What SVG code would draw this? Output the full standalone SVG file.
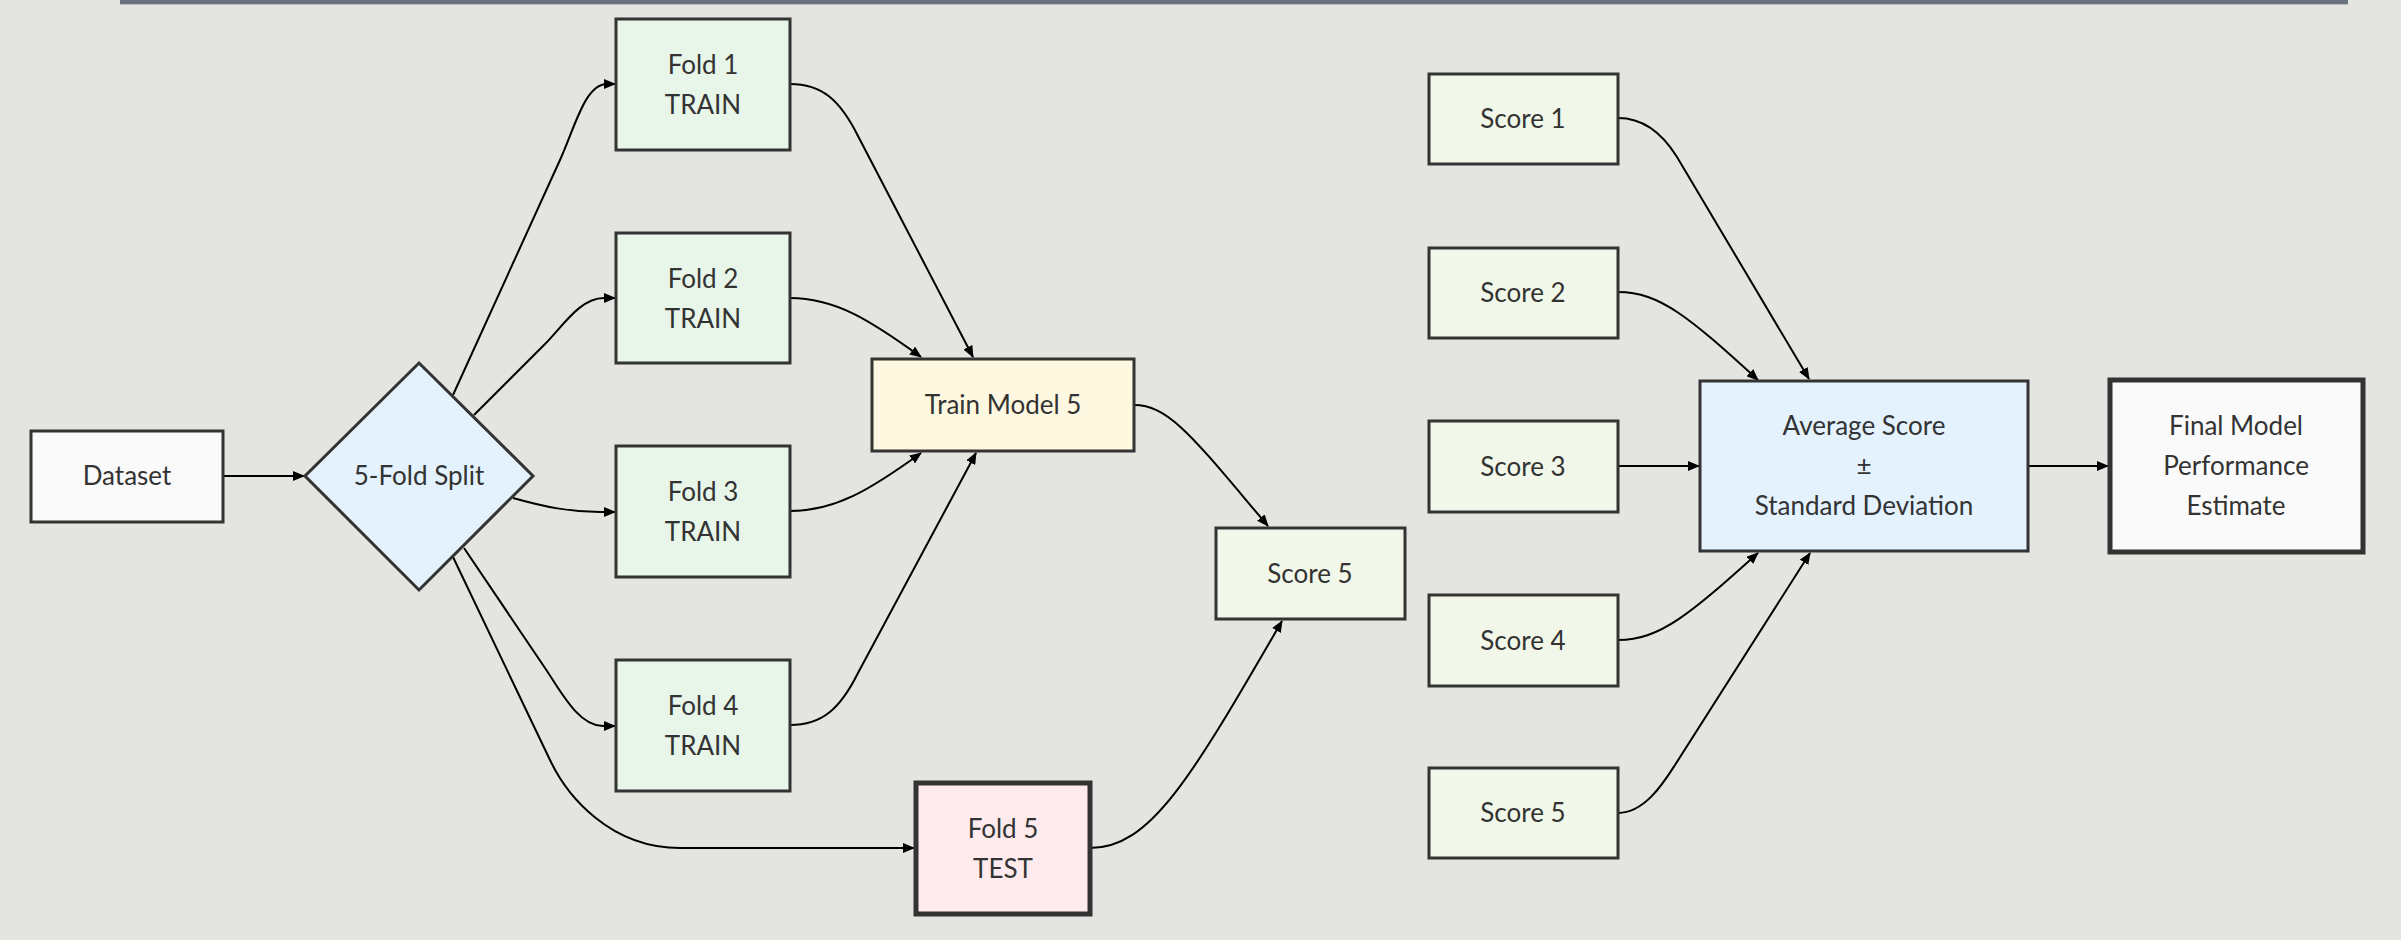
<svg xmlns="http://www.w3.org/2000/svg" width="2401" height="940" viewBox="0 0 2401 940">
  <defs>
    <style>
      .node rect, .node polygon { stroke: #333333; stroke-width: 3; }
      .node.strong rect { stroke-width: 5; }
      .node text { font-family: "Trebuchet MS", Lato, "Liberation Sans", sans-serif; font-size: 26px; fill: #333333; text-anchor: middle; }
      .edge { fill: none; stroke: #000000; stroke-width: 2; marker-end: url(#arrow); }
      .plain { fill: #fafafa; }
      .fold { fill: #e8f5e9; }
      .score { fill: #f1f8e9; }
      .model { fill: #fff8e1; }
      .test { fill: #ffebee; }
      .calc { fill: #e3f2fd; }
    </style>
    <marker id="arrow" viewBox="0 0 12 10" refX="11" refY="5" markerWidth="12" markerHeight="10" markerUnits="userSpaceOnUse" orient="auto">
      <path d="M0,0 L12,5 L0,10 z" fill="#000000"/>
    </marker>
  </defs>

  <!-- background and header rule -->
  <rect x="0" y="0" width="2401" height="940" fill="#e4e5e0"/>
  <rect x="120" y="0" width="2228" height="4" fill="#6b7280"/>
  <rect x="120" y="4" width="2228" height="1" fill="#b8bcc2"/>

  <!-- connectors -->
  <g id="edges">
    <path class="edge" d="M223,476 L304,476"/>
    <path class="edge" d="M453,395 L560,160 C575,127 585,84 607,84 L615,84"/>
    <path class="edge" d="M474,415 L545,344 C563,326 580,298 604,298 L615,298"/>
    <path class="edge" d="M513,498 C545,507 570,512 600,512 L615,512"/>
    <path class="edge" d="M464,548 L545,668 C560,690 578,726 603,726 L615,726"/>
    <path class="edge" d="M453,557 L550,760 C567,796 610,848 680,848 L914,848"/>
    <path class="edge" d="M790,84 C822,84 840,100 858,136 L973,357"/>
    <path class="edge" d="M790,298 C835,298 870,320 921,357"/>
    <path class="edge" d="M790,511 C835,511 870,490 921,453"/>
    <path class="edge" d="M790,725 C822,725 840,709 858,673 L976,453"/>
    <path class="edge" d="M1134,405 C1170,405 1195,440 1268,526"/>
    <path class="edge" d="M1090,848 C1150,848 1190,780 1282,621"/>
    <path class="edge" d="M1618,118 C1645,118 1664,136 1677,157 L1809,379"/>
    <path class="edge" d="M1618,292 C1660,292 1690,318 1758,380"/>
    <path class="edge" d="M1618,466 L1699,466"/>
    <path class="edge" d="M1618,640 C1660,640 1690,614 1758,553"/>
    <path class="edge" d="M1618,813 C1645,813 1664,782 1675,765 L1810,553"/>
    <path class="edge" d="M2028,466 L2108,466"/>
  </g>

  <!-- nodes -->
  <g id="dataset" class="node">
    <rect class="plain" x="31" y="431" width="192" height="91"/>
    <text x="127" y="485">Dataset</text>
  </g>
  <g id="split" class="node">
    <polygon class="calc" points="419,363 533,476 419,590 305,476"/>
    <text x="419" y="485">5-Fold Split</text>
  </g>
  <g id="fold1" class="node">
    <rect class="fold" x="616" y="19" width="174" height="131"/>
    <text x="703" y="74">Fold 1</text>
    <text x="703" y="114">TRAIN</text>
  </g>
  <g id="fold2" class="node">
    <rect class="fold" x="616" y="233" width="174" height="130"/>
    <text x="703" y="288">Fold 2</text>
    <text x="703" y="328">TRAIN</text>
  </g>
  <g id="fold3" class="node">
    <rect class="fold" x="616" y="446" width="174" height="131"/>
    <text x="703" y="501">Fold 3</text>
    <text x="703" y="541">TRAIN</text>
  </g>
  <g id="fold4" class="node">
    <rect class="fold" x="616" y="660" width="174" height="131"/>
    <text x="703" y="715">Fold 4</text>
    <text x="703" y="755">TRAIN</text>
  </g>
  <g id="fold5" class="node strong">
    <rect class="test" x="916" y="783" width="174" height="131"/>
    <text x="1003" y="838">Fold 5</text>
    <text x="1003" y="878">TEST</text>
  </g>
  <g id="train5" class="node">
    <rect class="model" x="872" y="359" width="262" height="92"/>
    <text x="1003" y="414">Train Model 5</text>
  </g>
  <g id="score5mid" class="node">
    <rect class="score" x="1216" y="528" width="189" height="91"/>
    <text x="1310" y="583">Score 5</text>
  </g>
  <g id="score1" class="node">
    <rect class="score" x="1429" y="74" width="189" height="90"/>
    <text x="1523" y="128">Score 1</text>
  </g>
  <g id="score2" class="node">
    <rect class="score" x="1429" y="248" width="189" height="90"/>
    <text x="1523" y="302">Score 2</text>
  </g>
  <g id="score3" class="node">
    <rect class="score" x="1429" y="421" width="189" height="91"/>
    <text x="1523" y="476">Score 3</text>
  </g>
  <g id="score4" class="node">
    <rect class="score" x="1429" y="595" width="189" height="91"/>
    <text x="1523" y="650">Score 4</text>
  </g>
  <g id="score5" class="node">
    <rect class="score" x="1429" y="768" width="189" height="90"/>
    <text x="1523" y="822">Score 5</text>
  </g>
  <g id="average" class="node">
    <rect class="calc" x="1700" y="381" width="328" height="170"/>
    <text x="1864" y="435">Average Score</text>
    <text x="1864" y="475">±</text>
    <text x="1864" y="515">Standard Deviation</text>
  </g>
  <g id="final" class="node strong">
    <rect class="plain" x="2110" y="380" width="253" height="172"/>
    <text x="2236" y="435">Final Model</text>
    <text x="2236" y="475">Performance</text>
    <text x="2236" y="515">Estimate</text>
  </g>
</svg>
